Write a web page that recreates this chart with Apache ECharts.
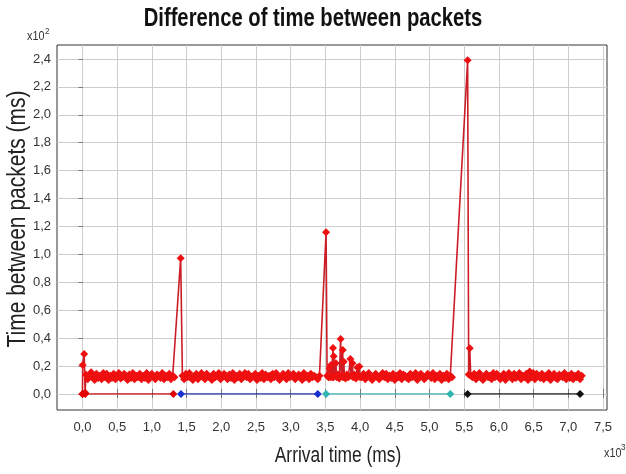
<!DOCTYPE html>
<html>
<head>
<meta charset="utf-8">
<script src="https://cdn.jsdelivr.net/npm/echarts@6/dist/echarts.min.js"></script>
<style>html,body{margin:0;padding:0;background:#fff}#c{width:626px;height:474px}</style>
</head>
<body>
<div id="c"></div>
<script>
// Arrival time (ms) and time between packets (ms)
const startTimes = [0, 3, 25, 38];
const startGaps  = [0, 20.8, 28.7, 1];

const seg1Times = [50,75,100,125,150,175,200,225,250,275,300,325,350,375,400,425,450,475,500,525,550,575,600,625,650,675,700,725,750,775,800,825,850,875,900,925,950,975,1000,1025,1050,1075,1100,1125,1150,1175,1200,1225,1250,1275,1300,1325];
const seg1Gaps  = [14,10.5,13,15.5,12,10,14.5,11.5,13,10.5,15,12,14.5,10,13,11.5,14.5,10.5,13,15,11,12,14.5,13,10,14,11.5,15,10.5,13,12,14.5,10.5,13,11.5,15,10,13,14.5,12,10.5,14,13,11.5,15,10.5,13,12,14.5,10.5,13,12];

const spike1Times = [1415];
const spike1Gaps  = [97.2];

const seg2Times = [1440,1465,1490,1515,1540,1565,1590,1615,1640,1665,1690,1715,1740,1765,1790,1815,1840,1865,1890,1915,1940,1965,1990,2015,2040,2065,2090,2115,2140,2165,2190,2215,2240,2265,2290,2315,2340,2365,2390,2415,2440,2465,2490,2515,2540,2565,2590,2615,2640,2665,2690,2715,2740,2765,2790,2815,2840,2865,2890,2915,2940,2965,2990,3015,3040,3065,3090,3115,3140,3165,3190,3215,3240,3265,3290,3315,3340,3365,3390,3415];
const seg2Gaps  = [13,10.5,14.5,12,15,11.5,10,13,14.5,10.5,13,15,12,10.5,14.5,13,11.5,10,14.5,12,13,15,10.5,12,14.5,13,10.5,14,11.5,15,10,13,12,14.5,10.5,13,15,12,14.5,10.5,12,13,14.5,10,13,11.5,15,10.5,14,12,13,10.5,14.5,12,15,13,10,12,14.5,13,10.5,15,12,13,14.5,10.5,12,14,13,10,15,12,13,10.5,14.5,12,13,12,10.5,13];

const spike2Times = [3510];
const spike2Gaps  = [115.8];

const burstTimes = [3525,3545,3560,3570,3580,3590,3600,3610,3615,3620,3635,3650,3665,3680,3700,3720,3730,3750,3755,3765,3775,3790,3810,3830,3860,3870,3890,3900,3920,3940,3960,3970,3990,4000];
const burstGaps  = [13,12,18.4,12,20.8,13,12,33,12,27,13,22,12,14,11,39.4,13,31.5,12,23,13,11,14,12,25,13,22,12,14,11,19,13,19.6,12];

const seg3Times = [4025,4050,4075,4100,4125,4150,4175,4200,4225,4250,4275,4300,4325,4350,4375,4400,4425,4450,4475,4500,4525,4550,4575,4600,4625,4650,4675,4700,4725,4750,4775,4800,4825,4850,4875,4900,4925,4950,4975,5000,5025,5050,5075,5100,5125,5150,5175,5200,5225,5250,5275,5300,5325];
const seg3Gaps  = [12,14.5,10.5,13,15,11.5,10,13,14.5,12,10.5,13,15,12,14.5,10.5,13,11.5,14.5,10,13,12,15,10.5,14,13,11.5,10.5,14.5,12,13,15,10,12,14.5,13,10.5,12,14.5,13,11.5,15,10.5,13,12,14.5,10,13,11.5,14.5,10.5,13,12];

const spike3Times = [5550,5565,5580,5595];
const spike3Gaps  = [239,14,32.7,13];

const seg4Times = [5620,5645,5670,5695,5720,5745,5770,5795,5820,5845,5870,5895,5920,5945,5970,5995,6020,6045,6070,6095,6120,6145,6170,6195,6220,6245,6270,6295,6320,6345,6370,6395,6420,6445,6470,6495,6520,6545,6570,6595,6620,6645,6670,6695,6720,6745,6770,6795,6820,6845,6870,6895,6920,6945,6970,6995,7020,7045,7070,7095,7120,7145,7170,7195];
const seg4Gaps  = [12,14.5,10.5,13,15,11.5,10,13,14.5,12,13,10.5,15,12,14.5,13,10.5,12,14.5,10,13,15,12,10.5,14.5,11.5,13,15,10.5,13,12,14.5,10,16,12,15,10.5,14.5,13,11.5,14.5,10.5,13,12,15,10,13,14.5,11.5,10.5,14,13,12,15,10.5,13,11.5,14.5,10.5,13,12,14.5,10.5,13];

// Flow markers on the zero line
const flowRed   = [[0,0],[40,0],[1310,0]];
const flowBlue  = [[1420,0],[3390,0]];
const flowCyan  = [[3510,0],[5300,0]];
const flowBlack = [[5550,0],[7170,0]];

const xTicks = [0,500,1000,1500,2000,2500,3000,3500,4000,4500,5000,5500,6000,6500,7000,7500];
const yTicks = [0,20,40,60,80,100,120,140,160,180,200,220,240];

function zip(t, g) { return t.map(function (x, i) { return [x, g[i]]; }); }
const mainData = [].concat(
  zip(startTimes, startGaps), zip(seg1Times, seg1Gaps), zip(spike1Times, spike1Gaps),
  zip(seg2Times, seg2Gaps), zip(spike2Times, spike2Gaps), zip(burstTimes, burstGaps),
  zip(seg3Times, seg3Gaps), zip(spike3Times, spike3Gaps), zip(seg4Times, seg4Gaps)
);

const FONT = "'Liberation Sans', Arial, sans-serif";
const fmt = function (d) { return function (v) { return (v / d).toFixed(1).replace('.', ','); }; };

const chart = echarts.init(document.getElementById('c'), null, {renderer: 'canvas'});
function flow(data, lineColor, dotColor) {
  return {type: 'line', data: data, symbol: 'diamond', symbolSize: 8, showAllSymbol: true,
    lineStyle: {color: lineColor, width: 1.2}, itemStyle: {color: dotColor}, z: 3};
}
chart.setOption({
  animation: false,
  backgroundColor: '#fff',
  grid: {left: 57, right: 19, top: 45, bottom: 64, show: true, borderColor: '#333', borderWidth: 1,
    containLabel: false, outerBoundsMode: 'none'},
  xAxis: [{
    type: 'value', min: -367, max: 7558,
    axisLine: {show: false},
    axisTick: {customValues: xTicks, inside: true, length: 5, lineStyle: {color: '#777'}},
    axisLabel: {customValues: xTicks, formatter: fmt(1000), margin: 11, fontFamily: FONT, fontSize: 13, color: '#333'},
    splitLine: {show: true, lineStyle: {color: '#cdcdcd', width: 1}}
  }, {
    type: 'value', position: 'top', min: -367, max: 7558,
    axisLine: {show: false},
    axisTick: {customValues: xTicks, inside: true, length: 4, lineStyle: {color: '#777'}},
    axisLabel: {show: false}, splitLine: {show: false}
  }],
  yAxis: [{
    type: 'value', min: -11.5, max: 250,
    axisLine: {show: false},
    axisTick: {customValues: yTicks, inside: false, length: 3, lineStyle: {color: '#555'}},
    axisLabel: {customValues: yTicks, formatter: fmt(100), margin: 6, fontFamily: FONT, fontSize: 13, color: '#333'},
    splitLine: {show: true, lineStyle: {color: '#cdcdcd', width: 1}}
  }, {
    type: 'value', position: 'right', min: -11.5, max: 250,
    axisLine: {show: false},
    axisTick: {customValues: yTicks, inside: true, length: 4, lineStyle: {color: '#777'}},
    axisLabel: {show: false}, splitLine: {show: false}
  }],
  graphic: [
    {type: 'text', x: 313, y: 19, scaleX: 0.81,
      style: {text: 'Difference of time between packets', fontFamily: FONT, fontSize: 25, fontWeight: 'bold',
        fill: '#111', align: 'center', verticalAlign: 'middle'}},
    {type: 'text', x: 338, y: 456, scaleX: 0.79,
      style: {text: 'Arrival time (ms)', fontFamily: FONT, fontSize: 22, fill: '#222', align: 'center', verticalAlign: 'middle'}},
    {type: 'text', x: 18, y: 219, rotation: Math.PI / 2, scaleX: 0.84,
      style: {text: 'Time between packets (ms)', fontFamily: FONT, fontSize: 25, fill: '#222', align: 'center', verticalAlign: 'middle'}},
    {type: 'text', x: 27, y: 31, scaleX: 0.9, style: {text: 'x10', fontFamily: FONT, fontSize: 12, fill: '#333'}},
    {type: 'text', x: 45, y: 27, scaleX: 0.9, style: {text: '2', fontFamily: FONT, fontSize: 9, fill: '#333'}},
    {type: 'text', x: 604, y: 448, scaleX: 0.9, style: {text: 'x10', fontFamily: FONT, fontSize: 12, fill: '#333'}},
    {type: 'text', x: 621, y: 443, scaleX: 0.9, style: {text: '3', fontFamily: FONT, fontSize: 9, fill: '#333'}}
  ],
  series: [
    {type: 'line', data: mainData, symbol: 'diamond', symbolSize: 8, showAllSymbol: true,
      lineStyle: {color: '#cc1c26', width: 1.6}, itemStyle: {color: '#ee1010'}, z: 2},
    flow(flowRed, '#d01010', '#e00000'),
    flow(flowBlue, '#2a3aa8', '#1530d0'),
    flow(flowCyan, '#40b8b8', '#2fb5b0'),
    flow(flowBlack, '#222222', '#111111')
  ]
});
</script>
</body>
</html>
